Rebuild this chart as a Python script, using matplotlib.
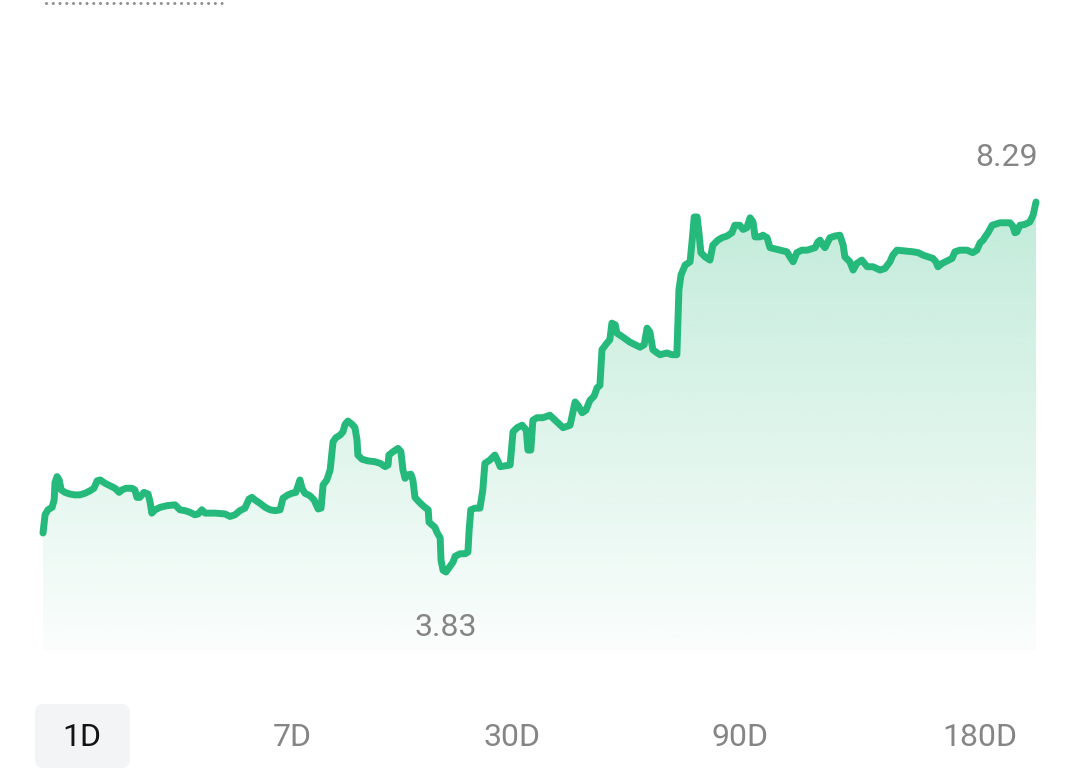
import numpy as np
import matplotlib
matplotlib.use("Agg")
import matplotlib.pyplot as plt
from matplotlib.patches import FancyBboxPatch, Polygon

# ---------------- data (1D price history, hours since start) ----------------
hours = [0.00, 0.05, 0.12, 0.22, 0.27, 0.29, 0.34, 0.39, 0.44, 0.53, 0.65, 0.77, 0.89, 1.02,
         1.14, 1.23, 1.31, 1.38, 1.50, 1.62, 1.74, 1.84, 1.91, 2.01, 2.15, 2.22, 2.27, 2.34,
         2.44, 2.54, 2.59, 2.63, 2.71, 2.83, 3.00, 3.19, 3.31, 3.43, 3.55, 3.67, 3.75, 3.84,
         3.92, 4.16, 4.40, 4.52, 4.64, 4.76, 4.88, 4.98, 5.05, 5.12, 5.24, 5.37, 5.49, 5.61,
         5.73, 5.80, 5.92, 6.02, 6.11, 6.19, 6.21, 6.26, 6.33, 6.45, 6.55, 6.65, 6.72, 6.77,
         6.86, 6.94, 7.01, 7.08, 7.18, 7.25, 7.30, 7.37, 7.47, 7.54, 7.59, 7.61, 7.71, 7.85,
         8.02, 8.15, 8.27, 8.34, 8.36, 8.46, 8.58, 8.65, 8.70, 8.75, 8.82, 8.89, 8.94, 8.99,
         9.06, 9.14, 9.23, 9.31, 9.33, 9.40, 9.47, 9.52, 9.60, 9.62, 9.67, 9.74, 9.84, 9.91,
         9.96, 10.08, 10.20, 10.27, 10.30, 10.34, 10.44, 10.56, 10.63, 10.68, 10.80, 10.92,
         11.00, 11.05, 11.17, 11.29, 11.36, 11.46, 11.58, 11.68, 11.72, 11.79, 11.84, 11.94,
         12.08, 12.25, 12.42, 12.57, 12.74, 12.86, 12.93, 13.03, 13.12, 13.22, 13.32, 13.39,
         13.46, 13.51, 13.63, 13.70, 13.75, 13.83, 13.87, 14.02, 14.19, 14.43, 14.53, 14.60,
         14.67, 14.74, 14.82, 14.91, 15.08, 15.20, 15.32, 15.37, 15.42, 15.52, 15.64, 15.69,
         15.74, 15.81, 15.86, 15.90, 16.00, 16.12, 16.19, 16.31, 16.41, 16.53, 16.65, 16.72,
         16.84, 16.92, 17.01, 17.09, 17.16, 17.21, 17.33, 17.40, 17.50, 17.57, 17.81, 17.98,
         18.05, 18.13, 18.22, 18.34, 18.47, 18.66, 18.73, 18.78, 18.85, 18.90, 18.97, 19.02,
         19.14, 19.26, 19.34, 19.38, 19.50, 19.58, 19.67, 19.79, 19.92, 20.06, 20.23, 20.35,
         20.47, 20.54, 20.64, 20.83, 21.03, 21.15, 21.27, 21.39, 21.51, 21.58, 21.63, 21.73,
         21.85, 21.97, 22.04, 22.16, 22.33, 22.47, 22.57, 22.65, 22.72, 22.77, 22.84, 22.94,
         23.13, 23.37, 23.44, 23.49, 23.54, 23.61, 23.73, 23.85, 23.93, 24.00]

prices = [4.30, 4.52, 4.58, 4.61, 4.70, 4.91, 4.98, 4.94, 4.82, 4.79, 4.77, 4.76, 4.76, 4.78,
          4.81, 4.84, 4.93, 4.94, 4.90, 4.87, 4.84, 4.79, 4.82, 4.84, 4.84, 4.82, 4.73, 4.73,
          4.79, 4.77, 4.67, 4.54, 4.58, 4.61, 4.63, 4.64, 4.58, 4.57, 4.55, 4.52, 4.53, 4.58,
          4.54, 4.54, 4.53, 4.50, 4.52, 4.57, 4.60, 4.71, 4.73, 4.70, 4.66, 4.61, 4.58, 4.57,
          4.58, 4.72, 4.76, 4.78, 4.79, 4.91, 4.94, 4.84, 4.78, 4.75, 4.70, 4.59, 4.60, 4.88,
          4.94, 5.06, 5.40, 5.45, 5.48, 5.52, 5.61, 5.65, 5.61, 5.57, 5.42, 5.24, 5.19, 5.17,
          5.16, 5.14, 5.10, 5.12, 5.24, 5.28, 5.32, 5.28, 5.06, 4.96, 5.00, 5.01, 4.94, 4.73,
          4.69, 4.65, 4.61, 4.58, 4.43, 4.40, 4.37, 4.31, 4.24, 3.97, 3.85, 3.83, 3.90, 3.95,
          4.02, 4.05, 4.05, 4.07, 4.34, 4.58, 4.60, 4.60, 4.82, 5.14, 5.18, 5.24,
          5.16, 5.10, 5.11, 5.12, 5.52, 5.57, 5.60, 5.54, 5.30, 5.30, 5.66, 5.69,
          5.69, 5.72, 5.64, 5.57, 5.60, 5.88, 5.84, 5.75, 5.78, 5.90, 5.95, 6.05,
          6.08, 6.51, 6.59, 6.63, 6.83, 6.81, 6.71, 6.66, 6.60, 6.54, 6.57, 6.77,
          6.72, 6.51, 6.48, 6.45, 6.47, 6.45, 6.45, 7.23, 7.41, 7.53, 7.57, 7.83,
          8.11, 8.11, 7.89, 7.68, 7.63, 7.59, 7.77, 7.83, 7.86, 7.88, 7.92, 8.01,
          8.01, 7.96, 7.98, 8.10, 8.05, 7.87, 7.87, 7.89, 7.86, 7.74, 7.71, 7.69,
          7.63, 7.57, 7.68, 7.71, 7.71, 7.74, 7.81, 7.83, 7.77, 7.74, 7.81, 7.86,
          7.88, 7.89, 7.77, 7.63, 7.57, 7.47, 7.55, 7.59, 7.51, 7.51, 7.47, 7.49,
          7.57, 7.65, 7.71, 7.70, 7.69, 7.68, 7.65, 7.63, 7.61, 7.57, 7.51, 7.55,
          7.58, 7.61, 7.69, 7.71, 7.71, 7.68, 7.71, 7.80, 7.83, 7.87, 7.92, 8.01,
          8.04, 8.04, 8.00, 7.92, 7.93, 8.01, 8.02, 8.05, 8.13, 8.29]

tabs = ["1D", "7D", "30D", "90D", "180D"]
active_tab = "1D"

# ---------------- styling ----------------
GREEN = "#25b97b"
GREY = "#858585"
FONT = ["Roboto", "DejaVu Sans"]

fig = plt.figure(figsize=(10.8, 7.68), dpi=100)
fig.patch.set_facecolor("white")

# overlay axes in pixel units for the UI chrome
ov = fig.add_axes([0, 0, 1, 1], zorder=0)
ov.set_xlim(0, 1080)
ov.set_ylim(768, 0)
ov.axis("off")

# dotted line at the top
ov.plot([46, 224], [3, 3], color="#8f8f8f", lw=2.2,
        linestyle=(0, (0.01, 2.2)), dash_capstyle="round")

# tab bar
tab_centers = [82, 292, 512, 740, 980]
for name, cx in zip(tabs, tab_centers):
    if name == active_tab:
        box = FancyBboxPatch((35, 704), 95, 64,
                             boxstyle="round,pad=0,rounding_size=9",
                             facecolor="#f3f4f6", edgecolor="none")
        ov.add_patch(box)
        col = "#141414"
    else:
        col = GREY
    ov.text(cx, 737, name, ha="center", va="center", fontsize=23,
            color=col, family=FONT)

# chart axes
ax = fig.add_axes([43 / 1080, 118 / 768, 993 / 1080, 550 / 768], zorder=1)
ylo, yhi = 2.89, 9.52
ax.set_xlim(0, 24)
ax.set_ylim(ylo, yhi)
ax.axis("off")

# gradient fill under the line
n = 400
alpha = np.linspace(0.02, 0.30, n)[:, None]
rgb = np.array(matplotlib.colors.to_rgb(GREEN))
img = np.zeros((n, 1, 4))
img[..., :3] = rgb
img[..., 3] = alpha
im = ax.imshow(img, extent=[0, 24, ylo, 8.6], origin="lower",
               aspect="auto", interpolation="bicubic", zorder=1)
verts = [(hours[0], ylo)] + list(zip(hours, prices)) + [(hours[-1], ylo)]
clip = Polygon(verts, closed=True, facecolor="none", edgecolor="none")
ax.add_patch(clip)
im.set_clip_path(clip)

# line
ax.plot(hours, prices, color=GREEN, lw=5.0, solid_joinstyle="round",
        solid_capstyle="round", zorder=3, clip_on=False)

# min / max labels
imax = int(np.argmax(prices))
imin = int(np.argmin(prices))
ax.annotate(f"{prices[imax]:.2f}", (hours[imax], prices[imax]),
            xytext=(1, 32), textcoords="offset points", ha="right", va="center",
            fontsize=23, color=GREY, family=FONT, annotation_clip=False)
ax.annotate(f"{prices[imin]:.2f}", (hours[imin], prices[imin]),
            xytext=(0, -40), textcoords="offset points", ha="center", va="center",
            fontsize=23, color=GREY, family=FONT, annotation_clip=False)

fig.savefig("out.png", dpi=100, facecolor="white")
